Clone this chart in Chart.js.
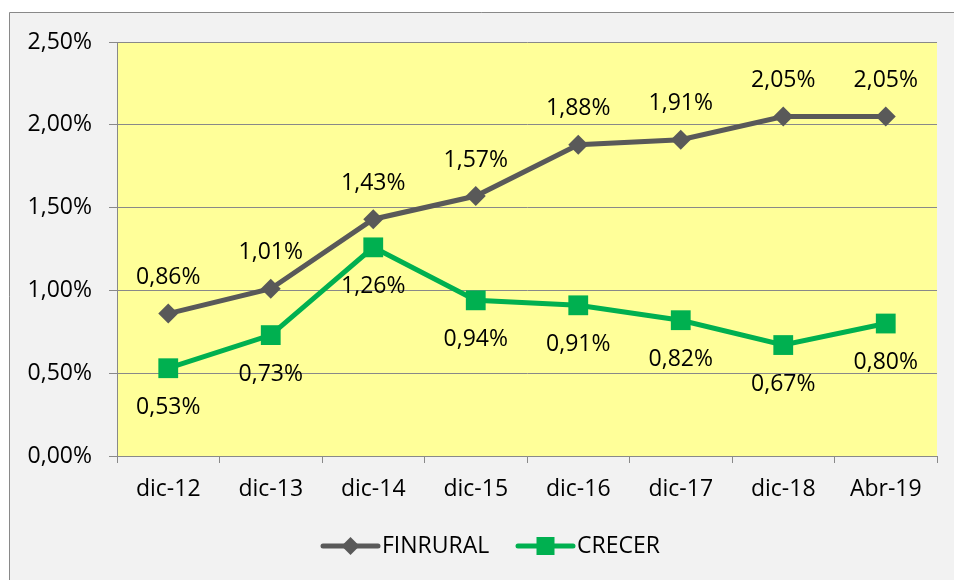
<!DOCTYPE html>
<html>
<head>
<meta charset="utf-8">
<script src="https://cdn.jsdelivr.net/npm/chart.js@4.4.1/dist/chart.umd.min.js"></script>
<style>
  html, body { margin: 0; padding: 0; background: #ffffff; }
  #wrap { width: 954px; height: 580px; position: relative; }
</style>
</head>
<body>
<div id="wrap"><canvas id="rateChart"></canvas></div>
<script>
// ------------------- Data -------------------
const periods = ["dic-12", "dic-13", "dic-14", "dic-15", "dic-16", "dic-17", "dic-18", "Abr-19"];
const finrural = [0.86, 1.01, 1.43, 1.57, 1.88, 1.91, 2.05, 2.05];
const crecer = [0.53, 0.73, 1.26, 0.94, 0.91, 0.82, 0.67, 0.80];
const seriesNames = ["FINRURAL", "CRECER"];

const FONT = "'Open Sans', sans-serif";
const FONT_SIZE = 23;
const GREY = "#595959";
const GREEN = "#00b050";
const AXIS = "#898989";

function pct(v) {
  return v.toFixed(2).replace(".", ",") + "%";
}

// page background, chart panel and yellow plot area
const backgroundPlugin = {
  id: "background",
  beforeDraw(chart) {
    const ctx = chart.ctx;
    const a = chart.chartArea;
    ctx.save();
    ctx.fillStyle = "#ffffff";
    ctx.fillRect(0, 0, chart.width, chart.height);
    ctx.fillStyle = "#f2f2f2";
    ctx.fillRect(9, 12, chart.width, chart.height);
    ctx.strokeStyle = AXIS;
    ctx.lineWidth = 1;
    ctx.beginPath();
    ctx.moveTo(9.5, chart.height);
    ctx.lineTo(9.5, 12.5);
    ctx.lineTo(chart.width, 12.5);
    ctx.stroke();
    ctx.fillStyle = "#ffff99";
    ctx.fillRect(a.left, a.top, a.right - a.left, a.bottom - a.top);
    ctx.restore();
  }
};

// value labels: FINRURAL above, CRECER below
const valueLabelPlugin = {
  id: "valueLabels",
  afterDatasetsDraw(chart) {
    const ctx = chart.ctx;
    ctx.save();
    ctx.font = FONT_SIZE + "px " + FONT;
    ctx.fillStyle = "#000000";
    ctx.textAlign = "center";
    ctx.textBaseline = "middle";
    chart.data.datasets.forEach((ds, i) => {
      const meta = chart.getDatasetMeta(i);
      const shift = i === 0 ? -36 : 39;
      meta.data.forEach((pt, j) => {
        ctx.fillText(pct(ds.data[j]), pt.x, pt.y + shift);
      });
    });
    ctx.restore();
  }
};

// legend drawn Excel style: line with marker in the middle
const legendPlugin = {
  id: "lineLegend",
  afterDraw(chart) {
    const ctx = chart.ctx;
    const y = 546;
    const starts = [323, 518];
    ctx.save();
    ctx.font = FONT_SIZE + "px " + FONT;
    ctx.textBaseline = "middle";
    chart.data.datasets.forEach((ds, i) => {
      const x0 = starts[i];
      ctx.strokeStyle = ds.borderColor;
      ctx.lineWidth = 5;
      ctx.lineCap = "round";
      ctx.beginPath();
      ctx.moveTo(x0, y);
      ctx.lineTo(x0 + 55, y);
      ctx.stroke();
      ctx.fillStyle = ds.borderColor;
      const cx = x0 + 27.5;
      if (ds.pointStyle === "rectRot") {
        ctx.beginPath();
        ctx.moveTo(cx, y - 9);
        ctx.lineTo(cx + 9, y);
        ctx.lineTo(cx, y + 9);
        ctx.lineTo(cx - 9, y);
        ctx.closePath();
        ctx.fill();
      } else {
        ctx.fillRect(cx - 9, y - 9, 18, 18);
      }
      ctx.fillStyle = "#000000";
      ctx.fillText(ds.label, x0 + 59, y);
    });
    ctx.restore();
  }
};

new Chart(document.getElementById("rateChart"), {
  type: "line",
  data: {
    labels: periods,
    datasets: [{
      label: seriesNames[0],
      data: finrural,
      borderColor: GREY,
      backgroundColor: GREY,
      borderWidth: 5,
      pointStyle: "rectRot",
      pointRadius: 10,
      pointHoverRadius: 10,
      pointBorderWidth: 0,
      tension: 0,
    }, {
      label: seriesNames[1],
      data: crecer,
      borderColor: GREEN,
      backgroundColor: GREEN,
      borderWidth: 5,
      pointStyle: "rect",
      pointRadius: 14,
      pointHoverRadius: 14,
      pointBorderWidth: 0,
      tension: 0,
    }],
  },
  options: {
    responsive: true,
    maintainAspectRatio: false,
    animation: false,
    layout: { padding: { left: 0, top: 42, right: 17, bottom: 0 } },
    scales: {
      x: {
        offset: true,
        grid: { offset: true, drawOnChartArea: false, color: AXIS, tickLength: 7 },
        border: { color: AXIS },
        ticks: { color: "#000000", font: { family: FONT, size: FONT_SIZE }, padding: 13, maxRotation: 0 },
        afterFit(scale) { scale.height = 124; },
      },
      y: {
        min: 0,
        max: 2.5,
        grid: { color: AXIS, tickLength: 8 },
        border: { color: AXIS },
        ticks: {
          stepSize: 0.5,
          color: "#000000",
          font: { family: FONT, size: FONT_SIZE },
          padding: 17,
          callback: (v) => pct(v),
        },
        afterFit(scale) { scale.width = 117; },
      },
    },
    plugins: {
      legend: { display: false },
      tooltip: { enabled: false },
    },
  },
  plugins: [backgroundPlugin, valueLabelPlugin, legendPlugin],
});
</script>
</body>
</html>
